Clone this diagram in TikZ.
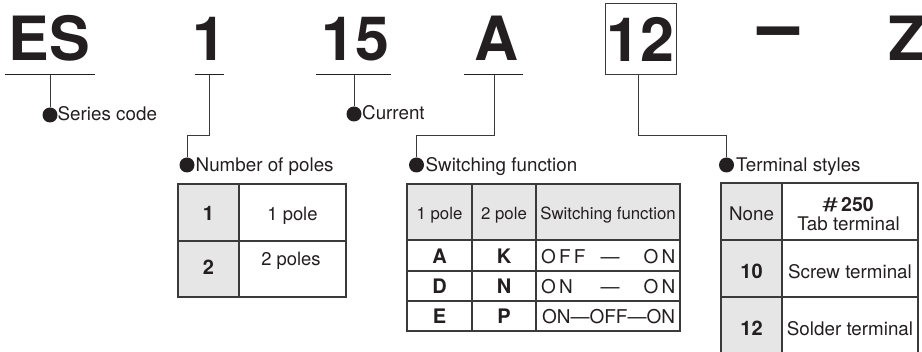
\documentclass[tikz,border=0pt]{standalone}
\usepackage{fontspec}
\setmainfont{TeX Gyre Heros}
\usetikzlibrary{calc}
\definecolor{ink}{HTML}{231F20}
\definecolor{cellgray}{HTML}{E6E6E6}
\definecolor{rulec}{HTML}{3A3A3A}
\begin{document}
\begin{tikzpicture}[x=1pt,y=-1pt,
  big/.style={font=\fontsize{61}{61}\selectfont\bfseries, inner sep=0, anchor=base west, text=ink},
  lbl/.style={font=\fontsize{18.8}{22}\selectfont, inner sep=0, anchor=base west, text=ink},
  dot/.style={circle, fill=ink, minimum size=15pt, inner sep=0},
  conn/.style={draw=rulec, line width=1pt},
  uline/.style={draw=ink, line width=1pt},
  tab/.style={draw=rulec, line width=1.3pt},
  cell/.style={font=\fontsize{18.4}{21}\selectfont, inner sep=0, anchor=base, text=ink},
  hcell/.style={font=\fontsize{16.8}{19}\selectfont, inner sep=0, anchor=base, text=ink},
  dcell/.style={font=\fontsize{19}{21}\selectfont, inner sep=0, anchor=base, text=ink},
  bcell/.style={font=\fontsize{20}{22}\selectfont\bfseries, inner sep=0, anchor=base, text=ink},
  tcell/.style={font=\fontsize{18.8}{21}\selectfont, inner sep=0, anchor=base, text=ink},
]
\useasboundingbox (0,0) rectangle (922,352);

% ---- code letters
\node[big] (es) at (8.5,61) {ES};
\node[big] (n1) at (192,61) {1};
\node[big] (n15) at (321,61) {15};
\node[big] (nA) at (474,61) {A};
\node[big, anchor=center, draw=rulec, line width=1pt, minimum width=71pt, minimum height=71pt] (n12) at (640.5,39.5) {12};
\node[big, anchor=base] (ndash) at (779,53) {\scalebox{0.69}[1.35]{—}};
\node[big] (nZ) at (888.5,61) {Z};

% underlines
\draw[uline] (5,75) -- (95,75);
\draw[uline] (195,75) -- (224,75);
\draw[uline] (316,75) -- (391,75);
\draw[uline] (464,75) -- (523,75);

\coordinate (uES) at (50,75);
\coordinate (u1) at (209,75);
\coordinate (u15) at (354,75);
\coordinate (uA) at (494,75);
\coordinate (u12) at (638,75);

% ---- label dots and texts
\node[dot] (dES) at (50,115) {};
\node[lbl] (lES) at ($(dES)+(7.5,6)$) {Series code};
\node[dot] (dCur) at (354,114) {};
\node[lbl] (lCur) at ($(dCur)+(8,6)$) {Current};
\node[dot] (dPoles) at (187,165) {};
\node[lbl] (lPoles) at ($(dPoles)+(8.5,6.5)$) {Number of poles};
\node[dot] (dSw) at (416.5,165) {};
\node[lbl] (lSw) at ($(dSw)+(9,6.5)$) {Switching function};
\node[dot] (dTerm) at (726.5,165) {};
\node[lbl] (lTerm) at ($(dTerm)+(9.5,6.5)$) {Terminal styles};

\coordinate (k1) at (187,136);
\coordinate (kA) at (416.5,136);
\coordinate (k12) at (726.5,136);

% connectors
\draw[conn] (uES) -- (dES.north);
\draw[conn] (u15) -- (dCur.north);
\draw[conn] (u1) |- (k1) -- (dPoles.north);
\draw[conn] (uA) |- (kA) -- (dSw.north);
\draw[conn] (u12) |- (k12) -- (dTerm.north);

% ---- table: number of poles
\fill[cellgray] (178,184) rectangle (239,297);
\draw[tab] (178,184) rectangle (346,297);
\draw[tab] (239,184) -- (239,297);
\draw[tab] (178,241) -- (346,241);
\node[bcell] (p1) at (208.5,221) {1};
\node[cell] (p1t) at (292.5,221) {1 pole};
\node[bcell] (p2) at (208.5,275) {2};
\node[cell] (p2t) at (291,266) {2 poles};

% ---- table: switching function
\fill[cellgray] (407,184) rectangle (680,240);
\draw[tab] (407,184) rectangle (680,331);
\draw[tab] (472,184) -- (472,331);
\draw[tab] (536,184) -- (536,331);
\draw[tab] (407,240) -- (680,240);
\draw[tab] (407,271) -- (680,271);
\draw[tab] (407,301) -- (680,301);
\node[hcell] (h1) at (439.5,220) {1 pole};
\node[hcell] (h2) at (504,220) {2 pole};
\node[hcell] (h3) at (608,220) {Switching function};
\node[bcell] (sA) at (439.5,264) {A};
\node[bcell] (sK) at (504,264) {K};
\node[dcell, anchor=base west] (s1a) at (541,264) {O\,F\,F};
\node[dcell] (s1b) at (610,264) {—};
\node[dcell, anchor=base east] (s1c) at (675.5,264) {O\,N};
\node[bcell] (sD) at (439.5,294) {D};
\node[bcell] (sN) at (504,294) {N};
\node[dcell, anchor=base west] (s2a) at (541,294) {O\,N};
\node[dcell] (s2b) at (610,294) {—};
\node[dcell, anchor=base east] (s2c) at (675.5,294) {O\,N};
\node[bcell] (sE) at (439.5,324) {E};
\node[bcell] (sP) at (504,324) {P};
\node[dcell] (s3) at (608.5,324) {ON—OFF—ON};

% ---- table: terminal styles
\fill[cellgray] (721,183) rectangle (782,354.5);
\draw[tab] (721,183) rectangle (918,354.5);
\draw[tab] (782,183) -- (782,354.5);
\draw[tab] (721,240) -- (918,240);
\draw[tab] (721,297) -- (918,297);
\node[tcell] (tN) at (751.5,221) {None};
\node[tcell, font=\fontsize{19.5}{21}\selectfont] (tH) at (848,212) {\scalebox{1.45}[1]{\#}\,\textbf{250}};
\node[tcell] (tT) at (848.5,230.5) {Tab terminal};
\node[bcell] (t10) at (751.5,279) {10};
\node[tcell] (tS) at (850,278.5) {Screw terminal};
\node[bcell] (t12) at (751.5,335.5) {12};
\node[tcell] (tD) at (850,335.5) {Solder terminal};
\end{tikzpicture}
\end{document}
